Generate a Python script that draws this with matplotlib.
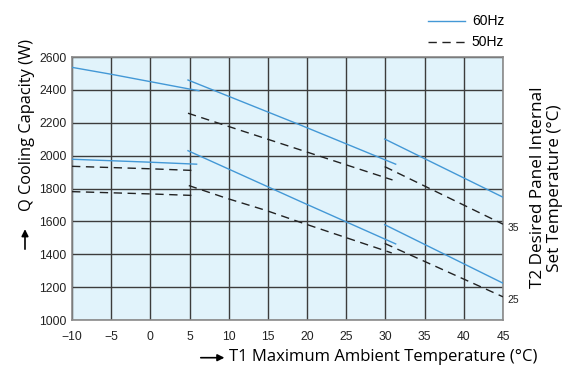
import matplotlib
matplotlib.use("Agg")
import matplotlib.pyplot as plt

# -----------------------------
# Data
# -----------------------------
# T2 = 25 °C / 35 °C families, three T1 ranges each
A60_hi_T = [-10, -5, 0, 5, 6.2]
A60_hi_Q = [2537, 2495, 2450, 2405, 2395]
A60_lo_T = [-10, 0, 5.9]
A60_lo_Q = [1978, 1960, 1948]
A50_hi_T = [-10, 0, 5.9]
A50_hi_Q = [1935, 1920, 1909]
A50_lo_T = [-10, 0, 5.9]
A50_lo_Q = [1781, 1767, 1757]

B60_hi_T = [4.8, 19.1, 31.3]
B60_hi_Q = [2460, 2187, 1948]
B50_hi_T = [4.8, 30.9]
B50_hi_Q = [2258, 1852]
B60_lo_T = [4.8, 19.1, 31.3]
B60_lo_Q = [2030, 1722, 1463]
B50_lo_T = [4.9, 9.7, 14.8, 19.1, 30.8]
B50_lo_Q = [1818, 1741, 1666, 1595, 1408]

C60_hi_T = [29.9, 45]
C60_hi_Q = [2101, 1747]
C50_hi_T = [29.9, 45]
C50_hi_Q = [1933, 1583]
C60_lo_T = [29.9, 45]
C60_lo_Q = [1580, 1224]
C50_lo_T = [29.9, 45]
C50_lo_Q = [1466, 1141]

X_TICKS = [-10, -5, 0, 5, 10, 15, 20, 25, 30, 35, 40, 45]
X_LABELS = ["\u221210", "\u22125", "0", "5", "10", "15", "20", "25", "30", "35", "40", "45"]
Y_TICKS = [1000, 1200, 1400, 1600, 1800, 2000, 2200, 2400, 2600]

T2_LABELS = ["35", "25"]
T2_AT_Q = [1583, 1141]

BLUE = "#4398d6"
DASH = "#222222"
LBL_FONT = ["Open Sans", "DejaVu Sans"]
TICK_FONT = ["Liberation Sans", "DejaVu Sans"]

fig = plt.figure(figsize=(5.68, 3.87), dpi=100)
ax = fig.add_axes([0.1268, 0.1731, 0.7588, 0.6796])
ax.set_facecolor("#e1f3fb")

solid = [(A60_hi_T, A60_hi_Q), (A60_lo_T, A60_lo_Q), (B60_hi_T, B60_hi_Q),
         (B60_lo_T, B60_lo_Q), (C60_hi_T, C60_hi_Q), (C60_lo_T, C60_lo_Q)]
dashed = [(A50_hi_T, A50_hi_Q), (A50_lo_T, A50_lo_Q), (B50_hi_T, B50_hi_Q),
          (B50_lo_T, B50_lo_Q), (C50_hi_T, C50_hi_Q), (C50_lo_T, C50_lo_Q)]

for i, (t, q) in enumerate(solid):
    ax.plot(t, q, color=BLUE, lw=1.0, label="60Hz" if i == 0 else None, zorder=3)
for i, (t, q) in enumerate(dashed):
    ax.plot(t, q, color=DASH, lw=1.0, dashes=(6, 4),
            label="50Hz" if i == 0 else None, zorder=3)

ax.set_xlim(-10, 45)
ax.set_ylim(1000, 2600)
ax.set_xticks(X_TICKS)
ax.set_xticklabels(X_LABELS)
ax.set_yticks(Y_TICKS)
ax.tick_params(length=0, labelsize=8.7, colors="#222222")
ax.tick_params(axis="x", pad=8)
ax.tick_params(axis="y", pad=4)
for lab in ax.get_xticklabels() + ax.get_yticklabels():
    lab.set_fontfamily(TICK_FONT)
ax.grid(True, color="#3c3c3c", lw=1.0, zorder=1)
for s in ax.spines.values():
    s.set_color("#8a8a8a")
    s.set_linewidth(1.2)

# T2 labels at right edge
for lab, q in zip(T2_LABELS, T2_AT_Q):
    ax.annotate(lab, xy=(1.0, q), xycoords=("axes fraction", "data"),
                xytext=(3, -2.5), textcoords="offset points",
                fontsize=7.5, family=TICK_FONT, va="center", ha="left", color="#222222")

# legend
leg = fig.legend(loc="upper left", bbox_to_anchor=(0.7315, 0.995), frameon=False,
                 handlelength=2.66, handletextpad=0.5, labelspacing=0.5,
                 prop={"family": TICK_FONT, "size": 10})

# axis labels with arrows
fig.text(0.047, 0.677, "Q Cooling Capacity (W)", rotation=90, ha="center", va="center",
         fontsize=11.8, family=LBL_FONT)
fig.text(0.674, 0.077, "T1 Maximum Ambient Temperature (\u00b0C)", ha="center", va="center",
         fontsize=12, family=LBL_FONT)
fig.text(0.962, 0.515, "T2 Desired Panel Internal\nSet Temperature (\u00b0C)", rotation=90,
         ha="center", va="center", fontsize=12.3, family=LBL_FONT, linespacing=1.1)

fig.add_artist(matplotlib.patches.FancyArrowPatch(
    (0.044, 0.349), (0.044, 0.415), transform=fig.transFigure,
    arrowstyle="-|>,head_length=4,head_width=2", color="black", lw=1.2))
fig.add_artist(matplotlib.patches.FancyArrowPatch(
    (0.3486, 0.0757), (0.4, 0.0757), transform=fig.transFigure,
    arrowstyle="-|>,head_length=4,head_width=2", color="black", lw=1.2))

fig.savefig("out.png", dpi=100)
